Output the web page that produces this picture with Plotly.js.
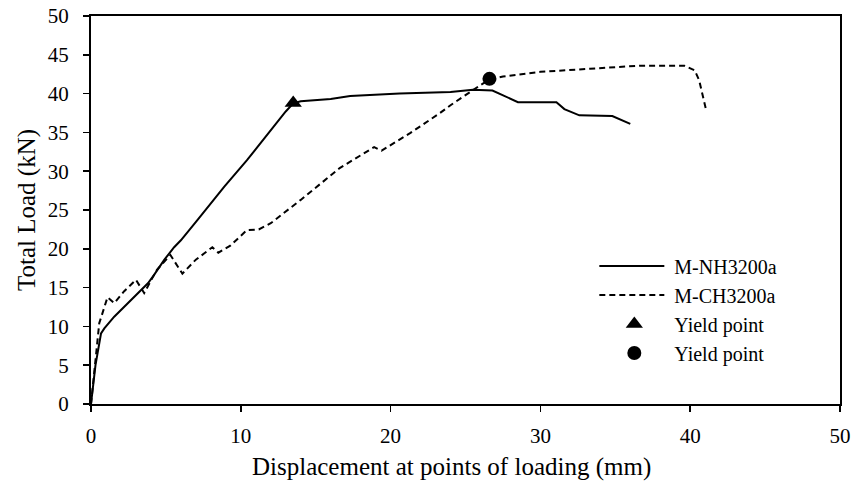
<!DOCTYPE html>
<html>
<head>
<meta charset="utf-8">
<script src="https://cdn.plot.ly/plotly-3.0.1.min.js"></script>
<style>html,body{margin:0;padding:0;background:#fff;}#chart{width:854px;height:483px;}</style>
</head>
<body>
<div id="chart"></div>
<script>
// M-NH3200a (solid)
var nhX = [0, 0.3, 0.67, 0.89, 1.55, 2.0, 2.9, 3.8, 4.2, 4.9, 5.55, 6.0, 7.1, 8.9, 10.4, 11.3, 13.0, 13.5, 14.0, 16.0, 17.3, 20.6, 24.0, 25.5, 26.8, 28.5, 31.07, 31.6, 32.6, 34.8, 36.0];
var nhY = [0, 5.0, 9.1, 9.75, 11.25, 12.1, 13.8, 15.55, 16.6, 18.6, 20.2, 21.1, 23.7, 28.0, 31.4, 33.6, 37.7, 38.75, 39.0, 39.3, 39.7, 40.0, 40.2, 40.5, 40.4, 38.9, 38.9, 38.0, 37.2, 37.1, 36.1];
// M-CH3200a (dashed)
var chX = [0, 0.3, 0.55, 1.1, 1.55, 2.2, 3.0, 3.55, 4.4, 5.3, 6.1, 7.0, 8.1, 8.5, 9.3, 10.4, 11.2, 12.0, 14.0, 16.6, 18.9, 19.4, 21.3, 23.3, 24.0, 26.0, 26.6, 27.5, 30.0, 33.3, 36.6, 39.6, 40.3, 40.6, 41.06];
var chY = [0, 6.0, 10.4, 13.75, 13.0, 14.5, 16.0, 14.3, 17.3, 19.2, 16.8, 18.6, 20.2, 19.5, 20.4, 22.4, 22.5, 23.3, 26.3, 30.4, 33.1, 32.65, 34.9, 37.5, 38.5, 41.1, 41.8, 42.2, 42.8, 43.2, 43.6, 43.6, 43.0, 41.7, 37.9];
// Yield points
var yieldNH = {x: [13.5], y: [38.8]};
var yieldCH = {x: [26.6], y: [41.9]};
var seriesNames = ["M-NH3200a", "M-CH3200a", "Yield point", "Yield point"];
var xTitle = "Displacement at points of loading (mm)";
var yTitle = "Total Load (kN)";

var font = "Liberation Serif, Times New Roman, serif";
var traces = [
  {x: nhX, y: nhY, mode: "lines", name: seriesNames[0], line: {color: "#000", width: 2}},
  {x: chX, y: chY, mode: "lines", name: seriesNames[1], line: {color: "#000", width: 2, dash: "6px,4px"}},
  {x: yieldNH.x, y: yieldNH.y, mode: "markers", name: seriesNames[2], marker: {symbol: "triangle-up", size: 15, color: "#000"}},
  {x: yieldCH.x, y: yieldCH.y, mode: "markers", name: seriesNames[3], marker: {symbol: "circle", size: 14, color: "#000"}}
];
var axisCommon = {
  showgrid: false, zeroline: false, showline: true, linecolor: "#000", linewidth: 2,
  mirror: true, ticks: "outside", ticklen: 6, tickwidth: 1.5, tickcolor: "#000",
  tickfont: {family: font, size: 21, color: "#000"}
};
var layout = {
  width: 854, height: 483,
  margin: {l: 91, r: 14, t: 16, b: 79},
  paper_bgcolor: "#fff", plot_bgcolor: "#fff",
  font: {family: font, color: "#000"},
  xaxis: Object.assign({}, axisCommon, {range: [0, 50], dtick: 10, tick0: 0, ticklabelstandoff: 6}),
  yaxis: Object.assign({}, axisCommon, {range: [0, 50], dtick: 5, tick0: 0, ticklabelstandoff: 10,
    title: {text: yTitle, font: {family: font, size: 25, color: "#000"}, standoff: 5}}),
  annotations: [{text: xTitle, xref: "paper", yref: "paper", x: 0.4813, y: -0.162,
    xanchor: "center", yanchor: "middle", showarrow: false,
    font: {family: font, size: 25, color: "#000"}}],
  showlegend: true,
  legend: {x: 0.672, y: 0.406, xanchor: "left", yanchor: "top", bgcolor: "rgba(0,0,0,0)",
    font: {family: font, size: 20, color: "#000"}, tracegroupgap: 0, itemwidth: 70}
};
function fixLegend() {
  var gd = document.getElementById("chart");
  gd.querySelectorAll("g.legendlines path").forEach(function (p) { p.setAttribute("d", "M5,0h65"); });
  gd.querySelectorAll("g.legendpoints path").forEach(function (p) { p.setAttribute("transform", "translate(40,0)"); });
}
Plotly.newPlot("chart", traces, layout, {displayModeBar: false, staticPlot: true}).then(function () {
  fixLegend();
  setTimeout(fixLegend, 50);
  setTimeout(fixLegend, 300);
});
</script>
</body>
</html>
